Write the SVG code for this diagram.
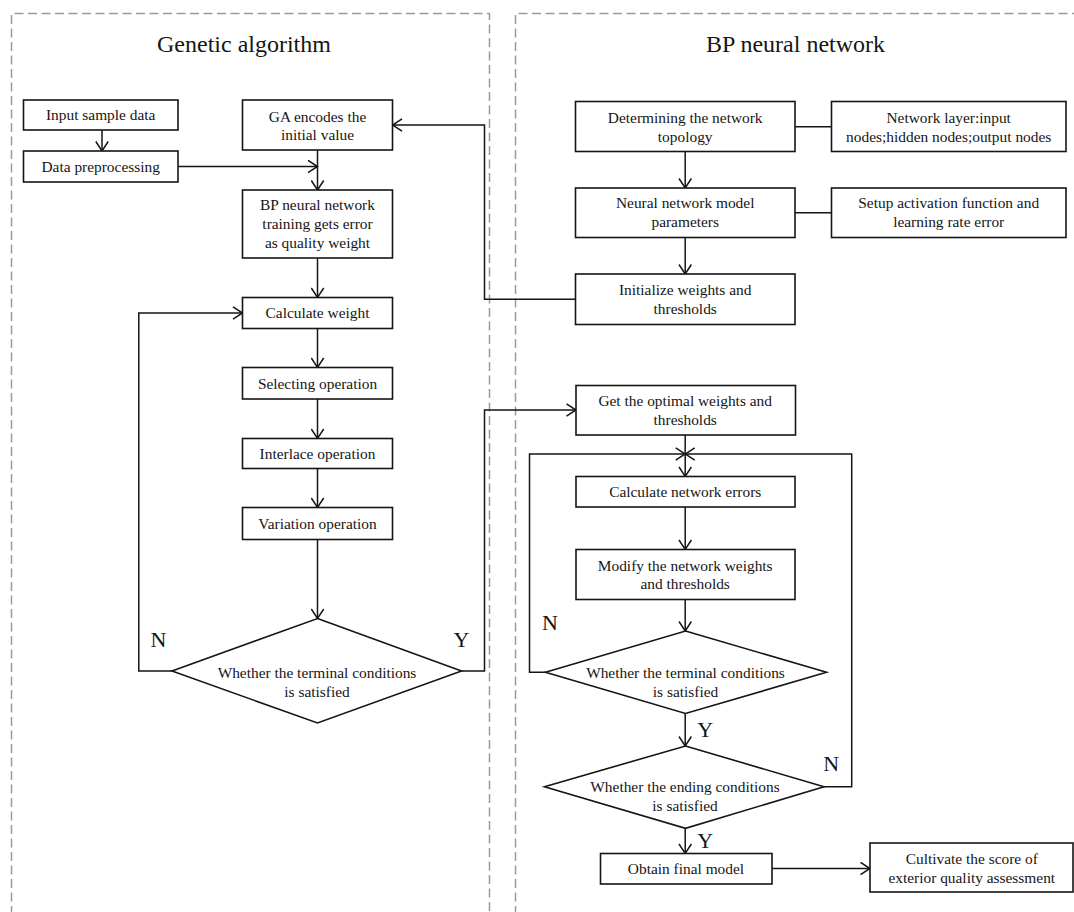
<svg xmlns="http://www.w3.org/2000/svg" width="1074" height="912" viewBox="0 0 1074 912">
<style>
.box{fill:#fff;stroke:#151515;stroke-width:1.6}
.dia{fill:#fff;stroke:#151515;stroke-width:1.6}
.panel{fill:none;stroke:#9a9a9a;stroke-width:1.5;stroke-dasharray:9 4.5}
.t{font-family:"Liberation Serif","Times New Roman",serif;font-size:15.4px;fill:#151515;text-anchor:middle}
.title{font-family:"Liberation Serif","Times New Roman",serif;font-size:24px;fill:#151515;text-anchor:middle}
.lbl{font-family:"Liberation Serif","Times New Roman",serif;font-size:22px;fill:#151515;text-anchor:middle}
.c{fill:none;stroke:#151515;stroke-width:1.5}
.a{marker-end:url(#arr)}
</style>
<defs>
<marker id="arr" viewBox="0 0 12 14" refX="11" refY="7" markerWidth="12" markerHeight="14" markerUnits="userSpaceOnUse" orient="auto">
<path d="M1.5,0.8 L11,7 L1.5,13.2" fill="none" stroke="#151515" stroke-width="1.5"/>
</marker>
</defs>
<rect width="1074" height="912" fill="#fff"/>
<g id="panels">
<path class="panel" d="M11.5,915 V13.5 H489.5 V915"/>
<path class="panel" d="M515.5,915 V13.5 H1080"/>
<text class="title" x="244" y="52">Genetic algorithm</text>
<text class="title" x="795.5" y="52">BP neural network</text>
</g>
<g id="connectors">
<path class="c a" d="M102,130 V151"/>
<path class="c a" d="M178,166.5 H317.5"/>
<path class="c a" d="M317.5,150 V190"/>
<path class="c a" d="M317.5,258 V297.5"/>
<path class="c a" d="M317.5,328.5 V367.5"/>
<path class="c a" d="M317.5,399 V438.5"/>
<path class="c a" d="M317.5,468.5 V507.5"/>
<path class="c a" d="M317.5,539.5 V618.5"/>
<path class="c a" d="M172,671 H138.8 V313 H242.5"/>
<path class="c a" d="M461.5,671 H484.5 V410 H576"/>
<path class="c a" d="M575.5,299.3 H484.5 V125 H392.5"/>
<path class="c" d="M795,126.7 H831.5"/>
<path class="c" d="M795,212.7 H831.5"/>
<path class="c a" d="M685.2,151.5 V188"/>
<path class="c a" d="M685.2,237.5 V274"/>
<path class="c a" d="M685.2,435 V476.5"/>
<path class="c a" d="M545.5,672.3 H529.5 V454 H685.2"/>
<path class="c a" d="M824,786.7 H851.7 V454 H685.2"/>
<path class="c a" d="M685.2,507 V549.5"/>
<path class="c a" d="M685.2,599.5 V631"/>
<path class="c a" d="M685.2,713.5 V746"/>
<path class="c a" d="M685.2,828.3 V853.5"/>
<path class="c a" d="M772,868.5 H870"/>
<text class="lbl" x="158.4" y="647">N</text>
<text class="lbl" x="461.4" y="647">Y</text>
<text class="lbl" x="550" y="630">N</text>
<text class="lbl" x="705.2" y="736.5">Y</text>
<text class="lbl" x="831.2" y="770.5">N</text>
<text class="lbl" x="705.2" y="848">Y</text>
</g>
<g id="n_input"><rect class="box" x="23.5" y="100" width="154.5" height="30"/><text class="t" x="100.7" y="120">Input sample data</text></g>
<g id="n_preproc"><rect class="box" x="23.5" y="151" width="154.5" height="31"/><text class="t" x="100.7" y="171.5">Data preprocessing</text></g>
<g id="n_ga"><rect class="box" x="242.5" y="100" width="150" height="50"/><text class="t" x="317.5" y="121.7">GA encodes the</text><text class="t" x="317.5" y="140">initial value</text></g>
<g id="n_bp"><rect class="box" x="242.5" y="190" width="150" height="68"/><text class="t" x="317.5" y="210">BP neural network</text><text class="t" x="317.5" y="229">training gets error</text><text class="t" x="317.5" y="248">as quality weight</text></g>
<g id="n_calc"><rect class="box" x="242.5" y="297.5" width="150" height="31"/><text class="t" x="317.5" y="318">Calculate weight</text></g>
<g id="n_sel"><rect class="box" x="242.5" y="367.5" width="150" height="31.5"/><text class="t" x="317.5" y="388.5">Selecting operation</text></g>
<g id="n_inter"><rect class="box" x="242.5" y="438.5" width="150" height="30"/><text class="t" x="317.5" y="459">Interlace operation</text></g>
<g id="n_var"><rect class="box" x="242.5" y="507.5" width="150" height="32"/><text class="t" x="317.5" y="528.5">Variation operation</text></g>
<g id="d_term1"><polygon class="dia" points="317.5,618.5 461.5,671 317.5,723 172,671"/><text class="t" x="317" y="678.3">Whether the terminal conditions</text><text class="t" x="317" y="697.3">is satisfied</text></g>
<g id="n_topo"><rect class="box" x="575.5" y="101.5" width="219.5" height="50"/><text class="t" x="685.2" y="122.7">Determining the network</text><text class="t" x="685.2" y="141.7">topology</text></g>
<g id="n_layer"><rect class="box" x="831.5" y="101.5" width="234.5" height="50"/><text class="t" x="948.7" y="122.7">Network layer:input</text><text class="t" x="948.7" y="141.7">nodes;hidden nodes;output nodes</text></g>
<g id="n_params"><rect class="box" x="575.5" y="188" width="219.5" height="49.5"/><text class="t" x="685.2" y="208.3">Neural network model</text><text class="t" x="685.2" y="227.3">parameters</text></g>
<g id="n_setup"><rect class="box" x="831.5" y="188" width="234.5" height="49.5"/><text class="t" x="948.7" y="208.3">Setup activation function and</text><text class="t" x="948.7" y="227.3">learning rate error</text></g>
<g id="n_init"><rect class="box" x="575.5" y="274" width="219.5" height="50.5"/><text class="t" x="685.2" y="295">Initialize weights and</text><text class="t" x="685.2" y="313.7">thresholds</text></g>
<g id="n_opt"><rect class="box" x="576" y="385.5" width="219.5" height="49.5"/><text class="t" x="685.2" y="406">Get the optimal weights and</text><text class="t" x="685.2" y="425">thresholds</text></g>
<g id="n_neterr"><rect class="box" x="576" y="476.5" width="219" height="30.5"/><text class="t" x="685.2" y="496.5">Calculate network errors</text></g>
<g id="n_modify"><rect class="box" x="576" y="549.5" width="219" height="50"/><text class="t" x="685.2" y="570.7">Modify the network weights</text><text class="t" x="685.2" y="589">and thresholds</text></g>
<g id="d_term2"><polygon class="dia" points="685.5,631 826.5,672.3 685.5,713.5 545.5,672.3"/><text class="t" x="685.5" y="678.3">Whether the terminal conditions</text><text class="t" x="685.5" y="697">is satisfied</text></g>
<g id="d_end"><polygon class="dia" points="685.5,746 824,786.7 685.5,828.3 544.5,786.7"/><text class="t" x="685" y="792.3">Whether the ending conditions</text><text class="t" x="685" y="811">is satisfied</text></g>
<g id="n_final"><rect class="box" x="600.5" y="853.5" width="171.5" height="30.5"/><text class="t" x="686" y="873.7">Obtain final model</text></g>
<g id="n_cult"><rect class="box" x="870" y="843" width="203" height="49"/><text class="t" x="971.8" y="864.3">Cultivate the score of</text><text class="t" x="971.8" y="882.7">exterior quality assessment</text></g>
</svg>
